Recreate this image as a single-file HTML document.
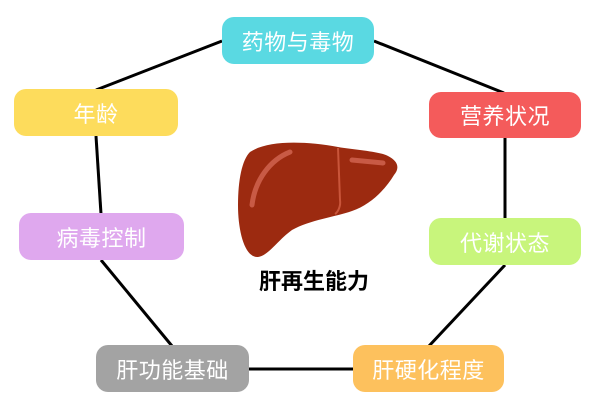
<!DOCTYPE html>
<html><head><meta charset="utf-8"><style>
html,body{margin:0;padding:0;background:#fff;}
body{width:611px;height:410px;position:relative;overflow:hidden;font-family:"Liberation Sans","Noto Sans CJK SC",sans-serif;}
.b{position:absolute;border-radius:12px;color:#fff;font-size:22px;display:flex;align-items:center;justify-content:center;letter-spacing:0.5px;}
svg{position:absolute;left:0;top:0;}
</style></head><body>
<svg width="611" height="410">
<g stroke="#000" stroke-width="3" fill="none">
<line x1="222" y1="41" x2="96" y2="90"/>
<line x1="374" y1="41" x2="504" y2="93"/>
<line x1="96" y1="136" x2="101" y2="214"/>
<line x1="505" y1="138" x2="505" y2="219"/>
<line x1="101" y1="260" x2="172" y2="346"/>
<line x1="505" y1="265" x2="429" y2="346"/>
<line x1="249" y1="369" x2="353" y2="369"/>
</g>
<path d="M250,152 C268,140 305,141 338,147 C355,150 378,151 388,156 C398,161 400,168 394,175 C385,190 370,205 352,211 C335,217 310,220 292,230 C278,240 268,256 258,257 C245,258 238,232 238,205 C238,180 242,160 250,152 Z" fill="#9c2a10"/>
<path d="M338,148 L340,200 C341,206 338,212 335,214" stroke="#c9553a" stroke-width="2" fill="none"/>
<path d="M290,152 C270,160 255,180 252,205" stroke="#c85a45" stroke-width="5" stroke-linecap="round" fill="none"/>
<path d="M352,160 L383,163" stroke="#c85a45" stroke-width="5" stroke-linecap="round" fill="none"/>
</svg>
<div class="b" style="left:222px;top:17px;width:152px;height:47px;background:#5ad9e2;">药物与毒物</div>
<div class="b" style="left:14px;top:89px;width:164px;height:47px;background:#fddc5c;">年龄</div>
<div class="b" style="left:429px;top:92px;width:152px;height:46px;background:#f45b5b;">营养状况</div>
<div class="b" style="left:19px;top:213px;width:165px;height:47px;background:#dfa8ee;">病毒控制</div>
<div class="b" style="left:429px;top:218px;width:152px;height:47px;background:#c8f57c;">代谢状态</div>
<div class="b" style="left:96px;top:345px;width:153px;height:47px;background:#a3a3a3;">肝功能基础</div>
<div class="b" style="left:353px;top:345px;width:151px;height:47px;background:#fdc15d;">肝硬化程度</div>
<div style="position:absolute;left:250px;top:264px;width:128px;text-align:center;font-size:22px;font-weight:bold;color:#000;">肝再生能力</div>
</body></html>
